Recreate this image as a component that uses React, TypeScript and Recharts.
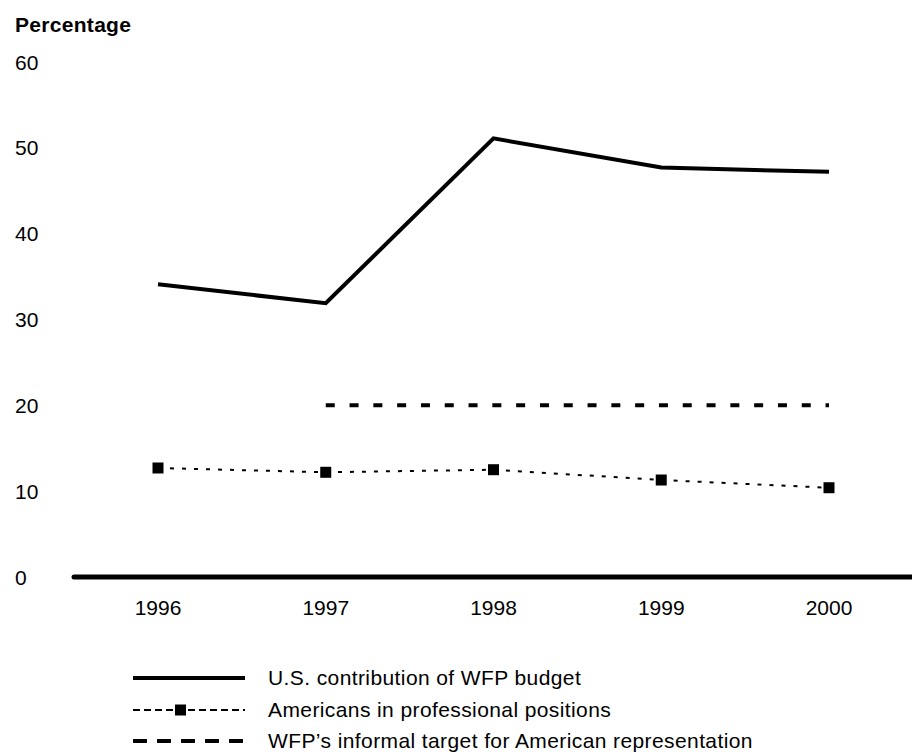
import React from 'react';
import { LineChart, Line, XAxis, YAxis, Legend } from 'recharts';

const years = ['1996', '1997', '1998', '1999', '2000'];
const usContribution = [34.1, 31.9, 51.1, 47.7, 47.2];
const americansProfessional = [12.7, 12.2, 12.5, 11.3, 10.4];
const informalTarget: (number | null)[] = [null, 20, 20, 20, 20];
const yTicks = [0, 10, 20, 30, 40, 50, 60];

const data = years.map((y, i) => ({
  year: y,
  us: usContribution[i],
  americans: americansProfessional[i],
  target: informalTarget[i],
}));

const FONT = '"Liberation Sans", Arial, Helvetica, sans-serif';

const YTick = (props: any) => {
  const { y, payload } = props;
  return (
    <text x={7} y={y} dy="0.36em" textAnchor="start" fontFamily={FONT} fontSize={21} fill="#000">
      {payload.value}
    </text>
  );
};

const XTick = (props: any) => {
  const { x, y, payload } = props;
  return (
    <text x={x} y={y + 38} textAnchor="middle" fontFamily={FONT} fontSize={21} fill="#000">
      {payload.value}
    </text>
  );
};

const SquareDot = (props: any) => {
  const { cx, cy } = props;
  if (cx == null || cy == null) return null;
  return <rect x={cx - 5.5} y={cy - 5.5} width={11} height={11} fill="#000" />;
};

const legendRows = [
  { label: 'U.S. contribution of WFP budget', kind: 'solid' },
  { label: 'Americans in professional positions', kind: 'marker' },
  { label: 'WFP\u2019s informal target for American representation', kind: 'dashed' },
];

const LegendContent = () => (
  <div style={{ fontFamily: FONT, fontSize: 21, color: '#000', letterSpacing: '0.4px' }}>
    {legendRows.map((r, i) => (
      <div key={i} style={{ display: 'flex', alignItems: 'center', height: i === 0 ? 33 : 31 }}>
        <svg width={135} height={20} style={{ flex: 'none' }}>
          {r.kind === 'solid' && <line x1={0} x2={112} y1={10} y2={10} stroke="#000" strokeWidth={4} />}
          {r.kind === 'marker' && (
            <g>
              <line x1={0} x2={112} y1={10} y2={10} stroke="#000" strokeWidth={2} strokeDasharray="7 4" />
              <rect x={42} y={4.5} width={11} height={11} fill="#000" />
            </g>
          )}
          {r.kind === 'dashed' && <line x1={0} x2={112} y1={10} y2={10} stroke="#000" strokeWidth={4} strokeDasharray="14 10" />}
        </svg>
        <span style={{ whiteSpace: 'nowrap', lineHeight: '21px' }}>{r.label}</span>
      </div>
    ))}
  </div>
);

export default function App() {
  return (
    <div style={{ position: 'relative', width: 912, height: 744, background: '#fff' }}>
      <div
        style={{
          position: 'absolute',
          left: 7,
          top: 5,
          fontFamily: FONT,
          fontSize: 21,
          fontWeight: 'bold',
          color: '#000',
          letterSpacing: '0.3px',
        }}
      >
        Percentage
      </div>
      <LineChart
        width={912}
        height={744}
        data={data}
        margin={{ top: 54, right: 7, bottom: 125, left: 0 }}
        style={{ position: 'absolute', left: 0, top: 0 }}
      >
        <XAxis
          dataKey="year"
          padding={{ left: 84, right: 84 }}
          axisLine={{ stroke: '#000', strokeWidth: 5, strokeLinecap: 'round' }}
          tickLine={false}
          tickSize={0}
          tickMargin={0}
          tick={<XTick />}
          height={50}
          interval={0}
        />
        <YAxis
          domain={[0, 60]}
          ticks={yTicks}
          axisLine={false}
          tickLine={false}
          tick={<YTick />}
          width={66}
          interval={0}
        />
        <Line
          dataKey="us"
          stroke="#000"
          strokeWidth={4}
          dot={false}
          activeDot={false}
          isAnimationActive={false}
        />
        <Line
          dataKey="target"
          stroke="#000"
          strokeWidth={4}
          strokeDasharray="9 14.8"
          dot={false}
          activeDot={false}
          isAnimationActive={false}
        />
        <Line
          dataKey="americans"
          stroke="#000"
          strokeWidth={2}
          strokeDasharray="4 8"
          dot={<SquareDot />}
          activeDot={false}
          isAnimationActive={false}
        />
        <Legend
          layout="horizontal"
          verticalAlign="middle"
          align="center"
          content={<LegendContent />}
          wrapperStyle={{ left: 125, top: 653, width: 720, height: 95 }}
        />
      </LineChart>
    </div>
  );
}
